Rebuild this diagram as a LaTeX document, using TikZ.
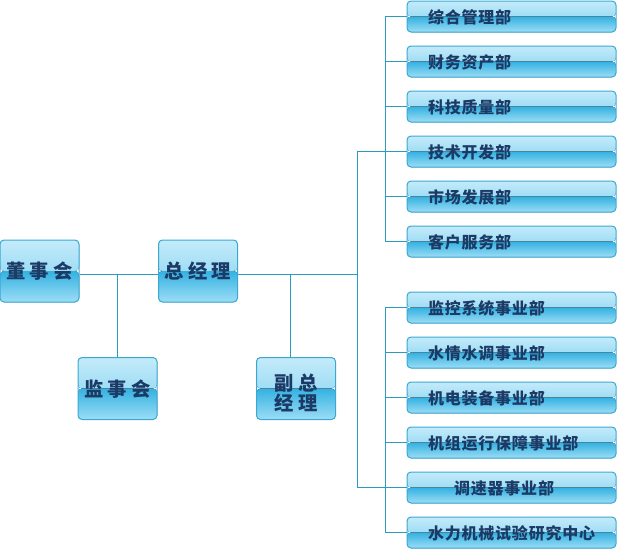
\documentclass[tikz,border=0pt]{standalone}
\usepackage{fontspec}
\newfontfamily\cjk{Noto Sans CJK SC}
\definecolor{linkblue}{HTML}{2A9CC0}
\definecolor{boxline}{HTML}{3AA9D2}
\definecolor{glossA}{HTML}{C4EBFA}
\definecolor{glossB}{HTML}{7ACFEF}
\definecolor{glossC}{HTML}{34B2E2}
\definecolor{glossD}{HTML}{9CDDF5}
\definecolor{navy}{HTML}{1B3A66}

\tikzset{every picture/.style={line width=0.75pt}}
\tikzset{
  glossbox/.style={draw=boxline, rounded corners=3pt, text=navy,
    path picture={
      \fill[top color=glossA, bottom color=glossB] (path picture bounding box.north west) rectangle (path picture bounding box.east);
      \fill[top color=glossC, bottom color=glossD] (path picture bounding box.west) rectangle (path picture bounding box.south east);
    }},
  postbox/.style={glossbox, minimum width=59.25pt, minimum height=46.5pt, inner sep=0pt, align=center,
    font=\cjk\bfseries\fontsize{14.5}{15}\selectfont\addfontfeature{LetterSpace=22}},
  post/.style={postbox, text height=13pt, text depth=1.2pt},
  dept/.style={glossbox, minimum height=23.25pt, inner xsep=15.75pt, inner ysep=0pt, text width=125.25pt, align=left,
    text height=10.8pt, text depth=1pt,
    font=\cjk\bfseries\fontsize{12}{12}\selectfont\addfontfeature{LetterSpace=5}}, 
  link/.style={draw=linkblue}
}

\begin{document}
\begin{tikzpicture}[x=0.75pt,y=0.75pt,yscale=-1,xscale=1]
        \useasboundingbox (0,0) rectangle (617,554);
        % Left posts
        \node [post] (dsh) at (39.5,271) {董事会};
        \node [post] (zjl) at (198,271) {总经理};
        \node [post] (jsh) at (117.5,388.5) {监事会};
        \node [postbox] (fzjl) at (296,388.5) {\rule{0pt}{19pt}副总\\经理};
        % Departments
        \foreach \n/\y/\t in {1/16.5/综合管理部, 2/61.5/财务资产部, 3/106.5/科技质量部, 4/151.5/技术开发部, 5/196.5/市场发展部, 6/241.5/客户服务部,
                              7/307.5/监控系统事业部, 8/352.5/水情水调事业部, 9/397.5/机电装备事业部, 10/442.5/机组运行保障事业部, 11/487.5/\hspace*{19.5pt}调速器事业部, 12/532.5/水力机械试验研究中心}
            \node [dept] (d\n) at (511.5,\y) {\t};

        \coordinate (hub) at (357,274);
        %Straight Lines
        \draw [link] (dsh.east |- hub) -- (zjl.west |- hub);
        \draw [link] (jsh.north) -- (jsh.north |- hub);
        \draw [link] (zjl.east |- hub) -- (hub);
        \draw [link] ([xshift=-4.5pt]fzjl.north) -- ([xshift=-4.5pt]fzjl.north |- hub);
        \draw [link] (d4.west) -- (hub |- d4.west) -- (hub |- d11.west) -- (d11.west);
        % Department buses
        \draw [link] (d1.west) -- ++(-21,0) |- (d6.west);
        \draw [link] (d7.west) -- ++(-21,0) |- (d12.west);
        \foreach \n in {2,3,5,8,9,10}
            \draw [link] (d\n.west) -- ++(-21,0);
    \end{tikzpicture}
\end{document}
